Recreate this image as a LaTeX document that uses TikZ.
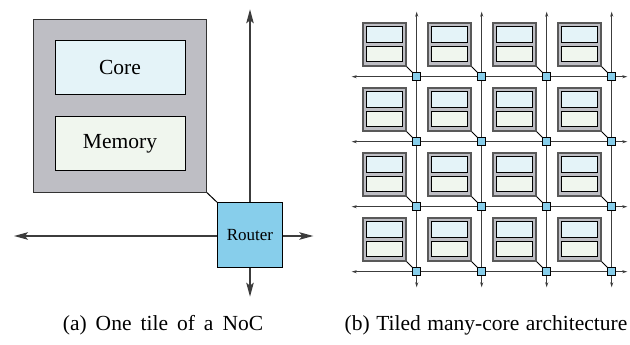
\documentclass[tikz,border=0pt]{standalone}
\usepackage{fontspec}
\setmainfont{Liberation Serif}
\usetikzlibrary{arrows.meta}

\definecolor{tilegray}{RGB}{190,190,196}
\definecolor{corefill}{RGB}{228,243,248}
\definecolor{memfill}{RGB}{240,246,238}
\definecolor{routerfill}{RGB}{135,206,235}
\definecolor{linkgray}{RGB}{60,60,60}

\begin{document}
\begin{tikzpicture}[x=1pt, y=-1pt,
	every node/.style={rectangle, draw=black, inner sep=0pt},
	tile/.style={fill=tilegray, draw=black!80, line width=1pt, minimum width=173pt, minimum height=173pt},
	core/.style={fill=corefill, line width=1pt, minimum width=130pt, minimum height=54pt, font=\fontsize{21.5}{25}\selectfont},
	mem/.style={fill=memfill, line width=1pt, minimum width=130pt, minimum height=54pt, font=\fontsize{21.5}{25}\selectfont},
	router/.style={fill=routerfill, line width=1pt, minimum width=65pt, minimum height=65pt, font=\fontsize{17}{20}\selectfont},
	link/.style={draw=linkgray, line width=1.3pt, -{Stealth[length=14pt, width=7.5pt, inset=3pt]}},
	smalltile/.style={fill=tilegray, draw=black!65, line width=1.8pt, minimum width=43pt, minimum height=43pt},
	smallcore/.style={fill=corefill, line width=0.9pt, minimum width=35.5pt, minimum height=15.6pt},
	smallmem/.style={fill=memfill, line width=0.9pt, minimum width=35.5pt, minimum height=15.6pt},
	smallrouter/.style={fill=routerfill, line width=0.9pt, minimum width=8pt, minimum height=8pt},
	gridlink/.style={draw=linkgray, line width=0.9pt, {Stealth[length=5pt, width=3pt]}-{Stealth[length=5pt, width=3pt]}},
	caption/.style={draw=none, anchor=base, font=\fontsize{21.5}{25}\selectfont}]
	\useasboundingbox (0,0) rectangle (630,345);

	\node[tile] (tile) at (120,105.7){};
	\node[core] (core) at (120,67.8){Core};
	\node[mem] (mem) at (120,143.7){Memory};
	\node[router] (router) at (250,235.2){Router};

	\coordinate (ntop) at (250,9.3);
	\coordinate (nbot) at (250,296.7);
	\coordinate (wend) at (14,236);
	\coordinate (eend) at (313.3,236);

	\path[draw=black, line width=1pt] (tile.south east) -- (router.north west);
	\path[link] (router.north) -- (ntop);
	\path[link] (router.south) -- (nbot);
	\path[link] (router.west |- wend) -- (wend);
	\path[link] (router.east |- eend) -- (eend);

	\foreach \i in {0,...,3}{
		\coordinate (vtop\i) at (416.7+65*\i,11.7);
		\coordinate (vbot\i) at (416.7+65*\i,287.3);
		\coordinate (hlft\i) at (351.7,76.7+65*\i);
		\coordinate (hrgt\i) at (627.3,76.7+65*\i);
		\path[gridlink] (vtop\i) -- (vbot\i);
		\path[gridlink] (hlft\i) -- (hrgt\i);
	}

	\foreach \i in {0,...,3}{
		\foreach \j in {0,...,3}{
			\node[smalltile] (t\i\j) at (384.2+65*\i,44.2+65*\j){};
			\node[smallcore] (c\i\j) at (384.5+65*\i,34.5+65*\j){};
			\node[smallmem] (m\i\j) at (384.5+65*\i,53.9+65*\j){};
			\node[smallrouter] (r\i\j) at (416.7+65*\i,76.7+65*\j){};
			\path[draw=black, line width=0.9pt] (t\i\j.south east) -- (r\i\j.north west);
			\node[smallrouter] at (r\i\j){};
		}
	}

	\node[caption] (capa) at (163,330){\spaceskip=9pt (a) One tile of a NoC};
	\node[caption] (capb) at (486,330){\spaceskip=6.5pt (b) Tiled many-core architecture};
\end{tikzpicture}
\end{document}
